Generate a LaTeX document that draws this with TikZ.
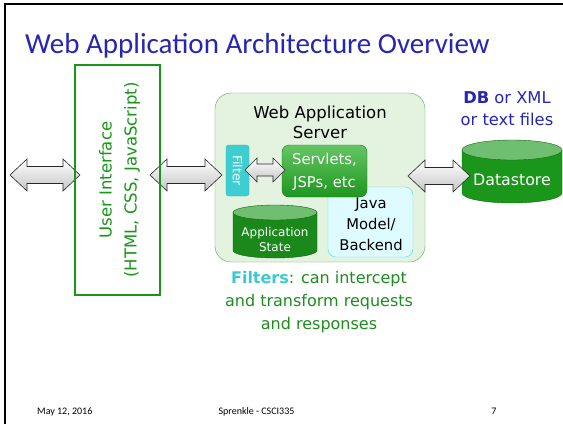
\documentclass[tikz,border=0pt]{standalone}
\usepackage{fontspec}
\setmainfont{DejaVu Sans}
\newfontfamily\calib{Carlito}
\definecolor{titleblue}{RGB}{38,38,178}
\definecolor{uigreen}{RGB}{24,150,24}
\definecolor{srvfill}{RGB}{228,242,224}
\definecolor{srvline}{RGB}{84,172,84}
\definecolor{filtfill}{RGB}{62,206,210}
\definecolor{filtline}{RGB}{40,176,186}
\definecolor{servtop}{RGB}{100,198,100}
\definecolor{servbot}{RGB}{30,150,30}
\definecolor{javafill}{RGB}{222,252,255}
\definecolor{javaline}{RGB}{90,214,226}
\definecolor{cylbody}{RGB}{26,150,26}
\definecolor{cyltop}{RGB}{112,190,112}
\definecolor{appbody}{RGB}{26,136,26}
\definecolor{captgreen}{RGB}{30,140,30}
\definecolor{captcyan}{RGB}{60,200,210}
\newcommand{\DArrow}[6]{\draw[arr] (#1,#3) -- (#1+#6,#3-#4) -- (#1+#6,#3-#5) -- (#2-#6,#3-#5) -- (#2-#6,#3-#4) -- (#2,#3) -- (#2-#6,#3+#4) -- (#2-#6,#3+#5) -- (#1+#6,#3+#5) -- (#1+#6,#3+#4) -- cycle;}
\newcommand{\Cyl}[8]{%
 \draw[draw=#8, fill=#6] (#1-#2,#3) -- (#1-#2,#4) arc[start angle=180, end angle=0, x radius=#2, y radius=#5] -- (#1+#2,#3) -- cycle;
 \draw[draw=#8, fill=#7] (#1,#3) ellipse [x radius=#2, y radius=#5];}
\tikzset{
 arr/.style={draw=black!85, line width=0.6, top color=white, bottom color=gray!45, line join=miter},
 lbl/.style={align=center, inner sep=0}
}
\begin{document}
\begin{tikzpicture}[x=1pt,y=-1pt]
\useasboundingbox (0,0) rectangle (563,424);
\fill[white] (0,0) rectangle (563,424);
\draw[line width=1.6] (5,424) -- (5,4) -- (563,4);
% title
\node[anchor=base west, inner sep=0, font=\calib\fontsize{29}{32}\selectfont, text=titleblue] (title) at (25,53) {Web Application Architecture Overview};
% server box
\node[draw=srvline, fill=srvfill, rounded corners=16, minimum width=210, minimum height=169] (srv) at (320,177.5) {};
\node[lbl, font=\fontsize{16.5}{20}\selectfont] (srvtitle) at (320,122) {Web Application\\Server};
% application state
\Cyl{275}{42}{212.5}{250.5}{7.5}{appbody}{cyltop}{appbody!70!black}
\node[lbl, text=white, font=\fontsize{12}{15}\selectfont] (appstate) at (275,239.5) {Application\\State};
% java
\node[draw=javaline, fill=javafill, rounded corners=8, minimum width=85, minimum height=70] (java) at (370.5,222) {};
\node[lbl, font=\fontsize{14.8}{21}\selectfont] (javatext) at (371,224) {Java\\Model/\\Backend};
% servlets
\node[draw=servbot!80!black, top color=servtop, bottom color=servbot, rounded corners=7, minimum width=85, minimum height=52] (servlets) at (324.5,171) {};
\node[lbl, text=white, font=\fontsize{14.8}{23}\selectfont] (servtext) at (324.5,171.5) {Servlets,\\JSPs, etc};
% datastore
\Cyl{512}{50}{150}{193}{10}{cylbody}{cyltop}{cylbody!70!black}
\node[lbl, text=white, font=\fontsize{15.8}{18}\selectfont] (datastore) at (512,180) {Datastore};
\node[lbl, text=titleblue, font=\fontsize{16.3}{22}\selectfont] (db) at (507,109) {\textbf{DB} or XML\\or text files};
% big arrows
\DArrow{10}{80}{175}{16}{8.5}{17}
\DArrow{150}{222}{175}{16}{8.5}{17}
\DArrow{408}{470}{176}{16}{8.5}{17}
% filter
\node[draw=filtline, fill=filtfill, rounded corners=3, minimum width=23, minimum height=51] (filter) at (237.5,170.5) {};
\node[lbl, rotate=-90, text=white, font=\fontsize{12.5}{14}\selectfont] (filtertext) at (filter) {Filter};
% inner arrow
\DArrow{245}{285}{170}{12}{6}{12}
% UI box
\node[draw=uigreen, line width=2, minimum width=85, minimum height=230] (ui) at (117.5,180) {};
\node[lbl, rotate=90, text=uigreen, font=\fontsize{16.5}{25}\selectfont] (uitext) at (119.5,180) {User Interface\\(HTML, CSS, JavaScript)};
% caption
\node[lbl, text=captgreen, font=\fontsize{16}{23}\selectfont] (capt) at (319,302.5) {\textcolor{captcyan}{\textbf{Filters}}: can intercept\\and transform requests\\and responses};
% footer
\node[anchor=base west, inner sep=0, font=\calib\fontsize{10}{12}\selectfont] (date) at (37,414) {May 12, 2016};
\node[anchor=base, inner sep=0, font=\calib\fontsize{10}{12}\selectfont] (author) at (256.5,414) {Sprenkle - CSCI335};
\node[anchor=base, inner sep=0, font=\calib\fontsize{10}{12}\selectfont] (page) at (494,414) {7};
\end{tikzpicture}
\end{document}
